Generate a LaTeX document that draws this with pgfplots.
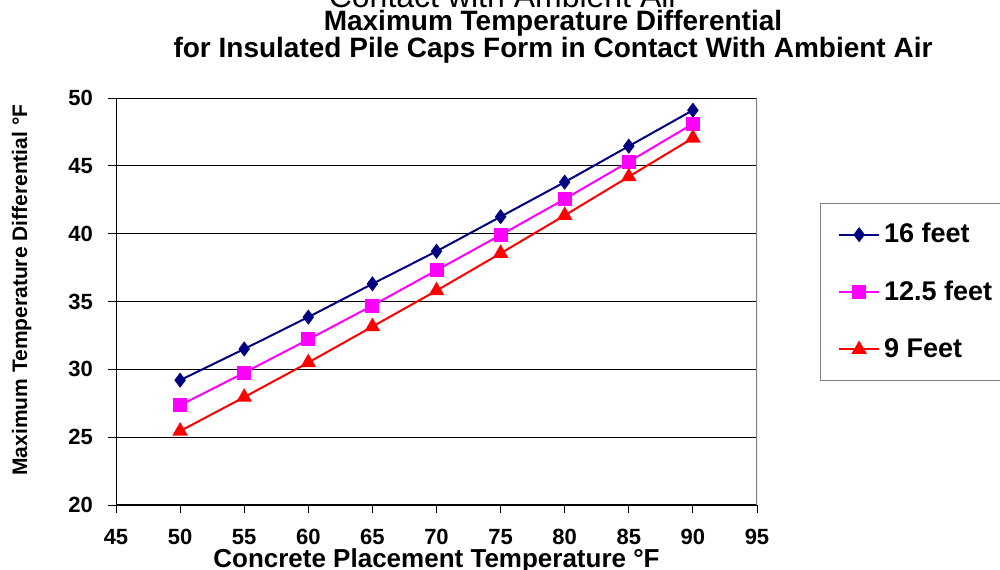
\documentclass[border=0pt]{standalone}
\usepackage{pgfplots}
\pgfplotsset{compat=1.18}
\usepackage{fontspec}
\setmainfont{Liberation Sans}
\definecolor{navyc}{HTML}{000080}
\definecolor{magc}{HTML}{FF00FF}
\definecolor{redc}{HTML}{FF0000}
\begin{document}
\begin{tikzpicture}
\clip (0pt,0pt) rectangle (500pt,284.5pt);
\useasboundingbox (0pt,0pt) rectangle (500pt,284.5pt);
\node[anchor=base,font=\fontsize{16}{18}\selectfont] at (252pt,280.5pt) {Contact with Ambient Air};
\node[anchor=base,font=\bfseries\fontsize{14}{16}\selectfont] at (276.5pt,269pt) {Maximum Temperature Differential};
\node[anchor=base,font=\bfseries\fontsize{14}{16}\selectfont] at (276.5pt,255.5pt) {for Insulated Pile Caps Form in Contact With Ambient Air};
\begin{axis}[
  at={(58pt,32pt)}, anchor=south west,
  scale only axis, width=320.5pt, height=203.5pt,
  xmin=45, xmax=95, ymin=20, ymax=50,
  xtick={45,50,...,95}, ytick={20,25,...,50},
  axis lines=left, axis line style={-, black},
  x axis line style={line width=1.2pt},
  ymajorgrids, grid style={black, line width=0.5pt},
  tick align=outside, major tick length=4pt,
  tick style={black, line width=0.5pt},
  ticklabel style={font=\bfseries\fontsize{11}{13}\selectfont},
  xticklabel style={yshift=-4.5pt},
  yticklabel style={xshift=-4pt},
  /pgf/number format/assume math mode=true,
  xlabel={\bfseries Concrete Placement Temperature °F},
  xlabel style={font=\fontsize{13}{15}\selectfont, at={(axis description cs:0.5,-0.138)}, anchor=center},
  ylabel={\bfseries Maximum Temperature Differential °F},
  ylabel style={font=\fontsize{10.5}{12}\selectfont, at={(axis description cs:-0.147,0.528)}, anchor=center},
  legend style={at={(1.098,0.742)}, anchor=north west, draw=gray, fill=white,
    font=\bfseries\fontsize{13.5}{15}\selectfont, inner xsep=9pt, inner ysep=8pt,
    row sep=13.5pt},
  legend cell align=left,
  legend image code/.code={\draw[mark repeat=2,mark phase=2] plot coordinates {(0cm,0cm)(0.35cm,0cm)(0.7cm,0cm)};},
]
\draw[gray, line width=0.8pt] (rel axis cs:1,0) -- (rel axis cs:1,1);
\addplot[navyc, line width=1pt, mark=diamond*, mark size=3pt] coordinates {
(50,29.2)(55,31.5)(60,33.85)(65,36.3)(70,38.7)(75,41.25)(80,43.8)(85,46.45)(90,49.1)};
\addlegendentry{16 feet}
\addplot[magc, line width=1pt, mark=square*, mark size=3pt] coordinates {
(50,27.35)(55,29.75)(60,32.2)(65,34.7)(70,37.3)(75,39.9)(80,42.55)(85,45.3)(90,48.1)};
\addlegendentry{12.5 feet}
\addplot[redc, line width=1pt, mark=triangle*, mark size=3.5pt] coordinates {
(50,25.45)(55,27.95)(60,30.5)(65,33.15)(70,35.8)(75,38.55)(80,41.35)(85,44.2)(90,47.05)};
\addlegendentry{9 Feet}
\end{axis}
\end{tikzpicture}
\end{document}
